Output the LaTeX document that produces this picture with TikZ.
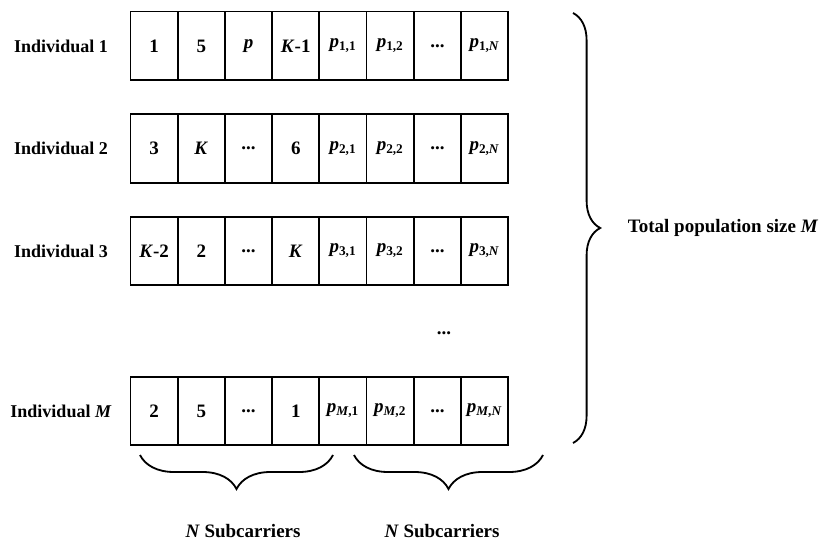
\documentclass[tikz,border=0pt]{standalone}
\usepackage{fontspec}
\setmainfont{Liberation Serif}
\usetikzlibrary{positioning,decorations.pathreplacing}

\newcommand{\bi}[1]{\textbf{\textit{#1}}}
\newcommand{\pv}[2]{\bi{p}\textsubscript{\textbf{#1,#2}}}
\newcommand{\skipdots}{...}

\begin{document}
\begin{tikzpicture}[x=0.025cm, y=-0.025cm, every node/.style={font=\fontsize{13.5}{16}\selectfont\bfseries}]
    % Define styles
    \tikzset{cellbox/.style={rectangle, draw=black, line width=1.3pt, outer sep=0pt, inner sep=0pt, minimum width=1.18cm, minimum height=1.72cm, text centered}}
    \tikzset{rowlabel/.style={anchor=center, font=\fontsize{12.8}{15}\selectfont\bfseries}}
    \tikzset{bracepath/.style={line width=1.3pt, decorate, decoration={brace, amplitude=#1}}}

    \useasboundingbox (0,0) rectangle (821,543);

    % Row labels
    \node (ind1) [rowlabel] at (61,46) {Individual 1};
    \node (ind2) [rowlabel] at (61,148) {Individual 2};
    \node (ind3) [rowlabel] at (61,251) {Individual 3};
    \node (indM) [rowlabel] at (61,411) {Individual \textit{M}};

    % Start points of the rows
    \coordinate (r1c0) at (130.5,46);
    \coordinate (r2c0) at (130.5,148.5);
    \coordinate (r3c0) at (130.5,251);
    \coordinate (rMc0) at (130.5,411);

    % Chromosomes
    \foreach \t [count=\i, remember=\i as \j (initially 0)] in {1, 5, \bi{p}, \bi{K}-1, \pv{1}{1}, \pv{1}{2}, \skipdots, \pv{1}{\textit{N}}}
        \node (r1c\i) [cellbox, right=0pt of r1c\j] {\t};
    \foreach \t [count=\i, remember=\i as \j (initially 0)] in {3, \bi{K}, \skipdots, 6, \pv{2}{1}, \pv{2}{2}, \skipdots, \pv{2}{\textit{N}}}
        \node (r2c\i) [cellbox, right=0pt of r2c\j] {\t};
    \foreach \t [count=\i, remember=\i as \j (initially 0)] in {\bi{K}-2, 2, \skipdots, \bi{K}, \pv{3}{1}, \pv{3}{2}, \skipdots, \pv{3}{\textit{N}}}
        \node (r3c\i) [cellbox, right=0pt of r3c\j] {\t};
    \foreach \t [count=\i, remember=\i as \j (initially 0)] in {2, 5, \skipdots, 1, \pv{\textit{M}}{1}, \pv{\textit{M}}{2}, \skipdots, \pv{\textit{M}}{\textit{N}}}
        \node (rMc\i) [cellbox, right=0pt of rMc\j] {\t};

    % Skipped rows
    \node (vdots) at (444,333) {\skipdots};

    % Population brace
    \coordinate (popA) at (573,13);
    \coordinate (popB) at (573,443);
    \draw [bracepath=0.68cm] (popA) -- (popB);
    \node (total) [anchor=west] at (623,228) {Total population size \textit{M}};

    % Subcarrier braces
    \coordinate (subA1) at (140,455);
    \coordinate (subA2) at (333,455);
    \coordinate (subB1) at (354,455);
    \coordinate (subB2) at (543,455);
    \draw [bracepath=0.85cm] (subA2) -- (subA1);
    \draw [bracepath=0.85cm] (subB2) -- (subB1);
    \node (subA) at (243,531) {\textit{N} Subcarriers};
    \node (subB) at (442,531) {\textit{N} Subcarriers};
\end{tikzpicture}
\end{document}
